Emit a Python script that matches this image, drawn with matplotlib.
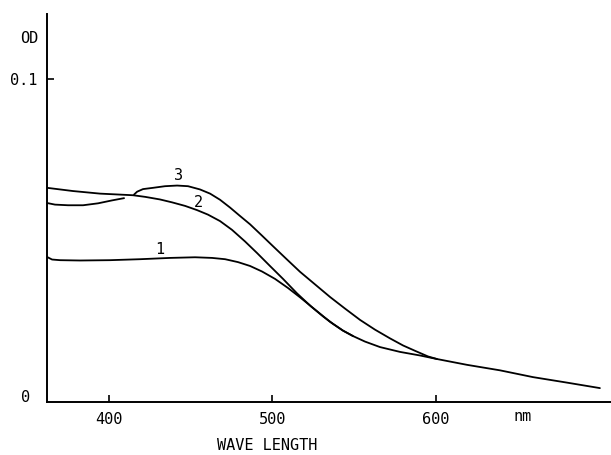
import numpy as np
import matplotlib
matplotlib.use("Agg")
import matplotlib.pyplot as plt
import matplotlib.transforms as mtransforms

plt.rcParams['font.family'] = 'DejaVu Sans Mono'

# -----------------------------
# Absorption spectra (wavelength in nm, optical density)
# -----------------------------
wl_1 = [362.0, 365.1, 370.0, 382.2, 400.6, 419.0, 437.4, 452.7, 463.1, 471.1,
        479.0, 486.4, 493.7, 501.7, 509.6, 517.0, 526.2, 535.4, 543.3, 549.5,
        556.8, 566.0, 578.3, 590.5, 600.9, 619.3, 639.5, 659.7, 680.5, 700.7]
od_1 = [0.0449, 0.0441, 0.0439, 0.0438, 0.0439, 0.0442, 0.0446, 0.0448, 0.0446, 0.0442,
        0.0433, 0.0421, 0.0404, 0.0381, 0.0353, 0.0324, 0.0286, 0.0248, 0.0221, 0.0204,
        0.0187, 0.0170, 0.0155, 0.0144, 0.0133, 0.0115, 0.0098, 0.0077, 0.0060, 0.0043]

wl_2 = [362.0, 377.9, 394.5, 406.7, 414.7, 422.1, 431.2, 438.6, 446.6, 453.9,
        460.6, 468.0, 475.3, 483.3, 490.7, 498.6, 506.6, 515.2, 523.7, 531.1,
        537.2, 543.3, 549.5]
od_2 = [0.0663, 0.0653, 0.0645, 0.0642, 0.0640, 0.0635, 0.0627, 0.0618, 0.0607, 0.0594,
        0.0580, 0.0560, 0.0533, 0.0497, 0.0461, 0.0421, 0.0381, 0.0336, 0.0296, 0.0265,
        0.0242, 0.0221, 0.0204]

# curve 3 has a small break in the pen trace near 412 nm
wl_3 = [362.0, 366.9, 374.9, 384.1, 393.3, 401.8, 409.2, np.nan,
        415.3, 417.2, 420.8, 427.0, 434.3, 441.7, 448.4, 455.7, 461.9, 468.0,
        474.1, 480.2, 486.4, 493.7, 500.5, 508.4, 517.0, 526.2, 535.4, 544.6,
        553.8, 562.9, 572.1, 580.1, 588.1, 595.4, 600.9]
od_3 = [0.0616, 0.0611, 0.0609, 0.0609, 0.0615, 0.0624, 0.0631, np.nan,
        0.0642, 0.0651, 0.0659, 0.0663, 0.0668, 0.0670, 0.0668, 0.0658, 0.0645, 0.0626,
        0.0602, 0.0576, 0.0550, 0.0515, 0.0482, 0.0444, 0.0403, 0.0364, 0.0325, 0.0289,
        0.0254, 0.0224, 0.0197, 0.0175, 0.0157, 0.0141, 0.0133]

curve_labels = ["1", "2", "3"]
label_pos = [(431.2, 0.0471), (454.5, 0.0619), (442.3, 0.0700)]

x_ticks = [400, 500, 600]
y_ticks = [0.1]

# -----------------------------
# Plot
# -----------------------------
fig = plt.figure(figsize=(6.11, 4.55), dpi=100)
ax = fig.add_axes([0.0764, 0.1165, 0.9236, 0.8527])

for wl, od in [(wl_1, od_1), (wl_2, od_2), (wl_3, od_3)]:
    ax.plot(wl, od, color='black', lw=1.3, solid_capstyle='round',
            solid_joinstyle='round')

for lab, (x, y) in zip(curve_labels, label_pos):
    ax.text(x, y, lab, fontsize=11, ha='center', va='center')

ax.set_xlim(361.8, 707.5)
ax.set_ylim(0, 0.1201)

ax.spines['top'].set_visible(False)
ax.spines['right'].set_visible(False)
ax.spines['left'].set_linewidth(1.4)
ax.spines['bottom'].set_linewidth(1.4)

ax.set_xticks(x_ticks)
ax.set_xticklabels([str(t) for t in x_ticks])
ax.set_yticks(y_ticks)
ax.set_yticklabels(["0.1"])
ax.tick_params(direction='in', length=5, width=1.2, labelsize=11, pad=7)

# zero label, axis title, unit and x label
ax.text(-0.0367, 0.0103, "0", transform=ax.transAxes, fontsize=11,
        ha='center', va='center')
ax.text(-0.0314, 0.938, "OD", transform=ax.transAxes, fontsize=11,
        ha='center', va='center')
blend = mtransforms.blended_transform_factory(ax.transData, ax.transAxes)
ax.text(653.6, -0.038, "nm", transform=blend, fontsize=11, ha='center', va='center')
ax.text(496.8, -0.1134, "WAVE LENGTH", transform=blend, fontsize=11,
        ha='center', va='center')

fig.savefig("out.png", dpi=100)
